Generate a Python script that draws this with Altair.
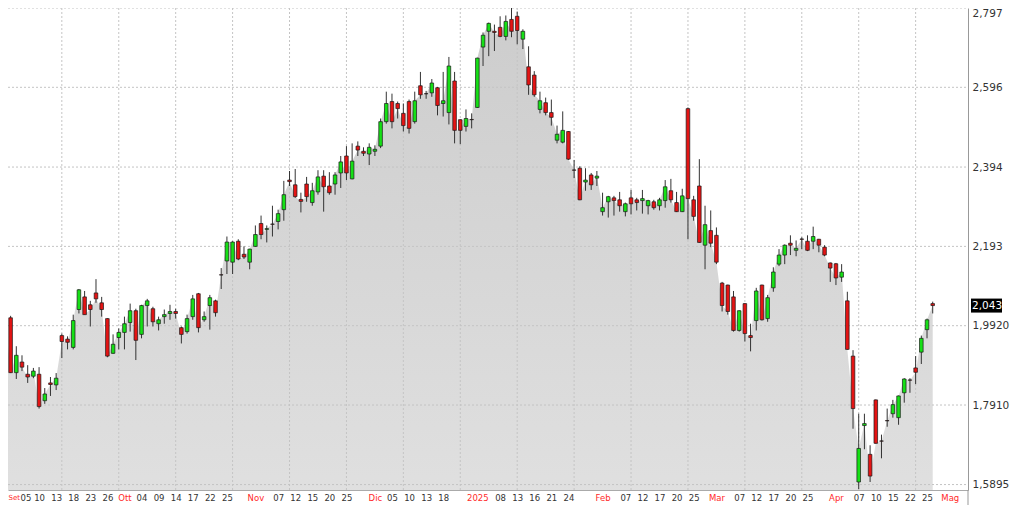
import json
import altair as alt
import pandas as pd

# ---- daily OHLC, one entry per trading session (30 Aug 2024 .. 28 Apr 2025) ----
opens = [2.045, 2.022, 2.012, 1.873, 1.900, 1.869, 1.864, 1.869, 1.802, 1.847,
         1.842, 1.967, 1.958, 1.937, 2.033, 2.065, 2.045, 2.075, 2.050, 2.010,
         1.922, 1.962, 1.975, 2.000, 2.030, 1.970, 2.043, 2.035, 1.997, 2.015,
         2.023, 2.028, 1.987, 1.977, 2.015, 2.073, 2.007, 2.043, 2.055, 2.121,
         2.156, 2.153, 2.206, 2.173, 2.153, 2.193, 2.251, 2.236, 2.2495, 2.256,
         2.286, 2.361, 2.349, 2.312, 2.351, 2.304, 2.331, 2.371, 2.346, 2.351,
         2.379, 2.422, 2.364, 2.447, 2.434, 2.427, 2.434, 2.447, 2.509, 2.560,
         2.555, 2.530, 2.560, 2.509, 2.600, 2.580, 2.582, 2.595, 2.555, 2.532,
         2.612, 2.514, 2.497, 2.5146, 2.545, 2.698, 2.738, 2.738, 2.748, 2.725,
         2.768, 2.776, 2.718, 2.648, 2.627, 2.540, 2.557, 2.532, 2.462, 2.457,
         2.484, 2.3866, 2.391, 2.356, 2.374, 2.366, 2.281, 2.306, 2.316, 2.311,
         2.281, 2.316, 2.311, 2.309, 2.296, 2.306, 2.296, 2.309, 2.334, 2.304,
         2.281, 2.542, 2.311, 2.346, 2.196, 2.233, 2.221, 2.100, 2.095, 2.065,
         1.980, 2.048, 1.967, 2.005, 2.095, 2.010, 2.088, 2.148, 2.171, 2.201,
         2.183, 2.2117, 2.206, 2.206, 2.211, 2.191, 2.151, 2.149, 2.115, 2.055,
         1.915, 1.596, 1.739, 1.666, 1.804, 1.700, 1.7516, 1.769, 1.759, 1.822,
         1.8545, 1.885, 1.925, 1.982, 2.048]
highs = [2.053, 2.028, 2.017, 1.940, 1.917, 1.892, 1.885, 1.887, 1.834, 1.862,
         1.872, 1.972, 1.965, 2.020, 2.085, 2.080, 2.055, 2.110, 2.065, 2.011,
         1.970, 1.985, 2.015, 2.048, 2.035, 2.045, 2.060, 2.040, 2.015, 2.033,
         2.045, 2.035, 1.990, 2.020, 2.070, 2.075, 2.028, 2.070, 2.058, 2.138,
         2.218, 2.206, 2.211, 2.193, 2.187, 2.246, 2.271, 2.246, 2.296, 2.286,
         2.359, 2.384, 2.389, 2.329, 2.369, 2.354, 2.386, 2.386, 2.381, 2.381,
         2.422, 2.447, 2.454, 2.459, 2.444, 2.454, 2.449, 2.517, 2.585, 2.580,
         2.560, 2.555, 2.565, 2.585, 2.635, 2.587, 2.617, 2.597, 2.635, 2.673,
         2.635, 2.515, 2.540, 2.530, 2.671, 2.735, 2.760, 2.755, 2.776, 2.778,
         2.815, 2.788, 2.743, 2.700, 2.637, 2.585, 2.570, 2.565, 2.499, 2.535,
         2.485, 2.412, 2.396, 2.391, 2.379, 2.384, 2.329, 2.321, 2.321, 2.331,
         2.304, 2.336, 2.316, 2.336, 2.311, 2.311, 2.316, 2.361, 2.364, 2.331,
         2.339, 2.545, 2.321, 2.414, 2.296, 2.284, 2.241, 2.103, 2.096, 2.080,
         2.031, 2.049, 1.997, 2.088, 2.096, 2.070, 2.140, 2.186, 2.198, 2.221,
         2.208, 2.216, 2.221, 2.243, 2.212, 2.196, 2.152, 2.151, 2.148, 2.078,
         1.930, 1.769, 1.769, 1.689, 1.805, 1.716, 1.782, 1.804, 1.815, 1.859,
         1.859, 1.915, 1.967, 2.010, 2.053]
lows = [2.017, 2.015, 1.872, 1.857, 1.877, 1.847, 1.859, 1.782, 1.794, 1.814,
        1.829, 1.910, 1.932, 1.932, 2.023, 2.020, 1.990, 2.050, 2.015, 1.912,
        1.921, 1.932, 1.932, 1.977, 1.905, 1.960, 1.990, 1.990, 1.980, 1.997,
        2.007, 2.010, 1.947, 1.972, 2.007, 1.975, 2.002, 1.982, 2.015, 2.085,
        2.123, 2.123, 2.158, 2.161, 2.135, 2.192, 2.211, 2.203, 2.218, 2.236,
        2.258, 2.346, 2.316, 2.279, 2.306, 2.296, 2.324, 2.281, 2.324, 2.324,
        2.341, 2.361, 2.363, 2.422, 2.422, 2.399, 2.422, 2.442, 2.504, 2.492,
        2.517, 2.484, 2.479, 2.504, 2.567, 2.567, 2.572, 2.525, 2.522, 2.502,
        2.454, 2.452, 2.484, 2.492, 2.544, 2.650, 2.675, 2.688, 2.723, 2.715,
        2.723, 2.705, 2.693, 2.577, 2.572, 2.530, 2.525, 2.499, 2.454, 2.454,
        2.412, 2.366, 2.310, 2.334, 2.336, 2.346, 2.271, 2.266, 2.271, 2.281,
        2.269, 2.274, 2.284, 2.276, 2.274, 2.286, 2.284, 2.291, 2.304, 2.280,
        2.280, 2.211, 2.258, 2.202, 2.135, 2.191, 2.148, 2.028, 2.020, 1.977,
        1.977, 1.952, 1.927, 1.980, 2.005, 2.002, 2.078, 2.143, 2.148, 2.171,
        2.168, 2.186, 2.181, 2.186, 2.178, 2.168, 2.103, 2.095, 2.103, 1.931,
        1.731, 1.578, 1.679, 1.596, 1.693, 1.656, 1.736, 1.759, 1.741, 1.797,
        1.822, 1.844, 1.895, 1.960, 2.023]
closes = [2.025, 2.021, 1.873, 1.917, 1.887, 1.862, 1.877, 1.787, 1.819, 1.843,
          1.859, 1.952, 1.950, 2.005, 2.083, 2.020, 2.033, 2.060, 2.033, 1.915,
          1.945, 1.975, 1.997, 2.030, 1.955, 2.043, 2.055, 2.002, 2.007, 2.020,
          2.028, 2.023, 1.970, 2.010, 2.060, 1.987, 2.015, 2.063, 2.025, 2.1205,
          2.204, 2.204, 2.161, 2.166, 2.186, 2.223, 2.223, 2.238, 2.249, 2.276,
          2.324, 2.357, 2.319, 2.307, 2.319, 2.334, 2.369, 2.344, 2.329, 2.374,
          2.407, 2.379, 2.409, 2.437, 2.429, 2.444, 2.439, 2.509, 2.555, 2.509,
          2.542, 2.499, 2.492, 2.562, 2.577, 2.5797, 2.607, 2.550, 2.562, 2.650,
          2.487, 2.487, 2.517, 2.514, 2.670, 2.728, 2.758, 2.735, 2.725, 2.763,
          2.738, 2.740, 2.738, 2.602, 2.577, 2.562, 2.532, 2.520, 2.477, 2.487,
          2.414, 2.386, 2.311, 2.361, 2.349, 2.371, 2.291, 2.319, 2.309, 2.296,
          2.301, 2.301, 2.304, 2.314, 2.309, 2.291, 2.311, 2.344, 2.311, 2.281,
          2.321, 2.314, 2.269, 2.203, 2.248, 2.201, 2.153, 2.043, 2.028, 1.980,
          2.030, 1.972, 1.962, 2.080, 2.007, 2.063, 2.128, 2.171, 2.196, 2.196,
          2.188, 2.211, 2.183, 2.218, 2.196, 2.171, 2.138, 2.113, 2.128, 1.932,
          1.782, 1.681, 1.744, 1.611, 1.694, 1.6995, 1.751, 1.792, 1.814, 1.857,
          1.854, 1.874, 1.960, 2.007, 2.043]

# ---- axis labels (session index -> label) ----
tick_idx = [1, 4, 7, 10, 13, 16, 19, 22, 25, 28, 31, 34, 37, 40, 45, 49, 52, 55, 58, 61,
            66, 69, 72, 75, 78, 84, 88, 91, 94, 97, 100, 106, 110, 113, 116, 119, 122,
            126, 130, 133, 136, 139, 142, 147, 151, 154, 157, 160, 163, 167]
tick_lab = ["Set", "05", "10", "13", "18", "23", "26", "Ott", "04", "09", "14", "17", "22",
            "25", "Nov", "07", "12", "15", "20", "25", "Dic", "05", "10", "13", "18", "2025",
            "08", "13", "16", "21", "24", "Feb", "07", "12", "17", "20", "25", "Mar", "07",
            "12", "17", "20", "25", "Apr", "07", "10", "15", "22", "25", "Mag"]
month_idx = [1, 22, 45, 66, 84, 106, 126, 147, 167]
grid_idx = [1, 11, 21, 31, 41, 51, 61, 71, 81, 91, 101, 111, 121, 131, 141, 151, 161]

y_ticks = [2.797, 2.596, 2.394, 2.193, 1.992, 1.791, 1.5895]
y_labels = ["2,797", "2,596", "2,394", "2,193", "1,9920", "1,7910", "1,5895"]
last_label = "2,043"

GREEN = "#16e016"
RED = "#e41414"
W, H = 960, 482
X_LO, X_HI = 1.5408, 170.2

df = pd.DataFrame({"i": list(range(len(closes))), "open": opens, "high": highs,
                   "low": lows, "close": closes})
df["dir"] = ["up" if c >= o else "down" for o, c in zip(opens, closes)]

xscale = alt.Scale(domain=[X_LO, X_HI], nice=False, zero=False, padding=0)
yscale = alt.Scale(domain=[1.5757, 2.797], nice=False, zero=False, padding=0)

# the first session label sits just left of the visible window: pin it to the left edge
first_pos = round(max(tick_idx[0], X_LO + 0.02), 3)
tick_pos = [first_pos] + tick_idx[1:]
month_pos = [first_pos if m == tick_idx[0] else m for m in month_idx]
second = tick_idx[1]

xaxis = alt.Axis(
    values=tick_pos, tickCount=500,
    labelExpr=f"{json.dumps(tick_lab)}[indexof({tick_pos}, datum.value)]",
    labelColor={"condition": {"test": f"indexof({month_pos}, datum.value) >= 0",
                              "value": "#ff2a2a"}, "value": "#333333"},
    labelAlign={"condition": {"test": f"datum.value == {first_pos}", "value": "left"},
                "value": "center"},
    labelOffset={"condition": {"test": f"datum.value == {second}", "value": 3.5},
                 "value": 0},
    labelFontSize={"condition": {"test": f"datum.value == {first_pos}", "value": 7},
                   "value": 8.5},
    labelFont="DejaVu Sans", labelPadding=3.5,
    ticks=False, grid=False, domainColor="#aaaaaa", labelOverlap=False, labelFlush=False,
    title="",
)
yaxis = alt.Axis(
    orient="right", values=y_ticks, tickCount=100,
    labelExpr=f"{json.dumps(y_labels)}[indexof({y_ticks}, datum.value)]",
    labelFont="DejaVu Sans", labelFontSize=10.5, labelColor="#333333", labelPadding=4,
    ticks=False, grid=False, domainColor="#999999", labelOverlap=False, labelFlush=True,
    title="",
)

base = alt.Chart(df)

area = base.mark_area(
    clip=True, interpolate="linear",
    color=alt.Gradient(gradient="linear",
                       stops=[alt.GradientStop(color="#cdcdcd", offset=0),
                              alt.GradientStop(color="#f8f8f8", offset=1)],
                       x1=0, x2=0, y1=0, y2=1),
).encode(
    x=alt.X("i:Q", scale=xscale, axis=xaxis),
    y=alt.Y("close:Q", scale=yscale, axis=yaxis),
    y2=alt.value(H),
)

hgrid = alt.Chart(pd.DataFrame({"v": y_ticks})).mark_rule(
    color="#c4c4c4", strokeDash=[2, 2], strokeWidth=1
).encode(y=alt.Y("v:Q", scale=yscale, title=""), x=alt.value(0), x2=alt.value(W))

vgrid = alt.Chart(pd.DataFrame({"g": grid_idx})).mark_rule(
    clip=True, color="#c4c4c4", strokeDash=[2, 2], strokeWidth=1
).encode(x=alt.X("g:Q", scale=xscale, title=""), y=alt.value(0), y2=alt.value(H))

wicks = base.mark_rule(clip=True, color="#333333", strokeWidth=1).encode(
    x=alt.X("i:Q", scale=xscale, title=""),
    y=alt.Y("low:Q", scale=yscale, title=""),
    y2="high:Q",
)

bodies = base.mark_bar(clip=True, size=3.6, stroke="#1a1a1a", strokeWidth=0.7).encode(
    x=alt.X("i:Q", scale=xscale, title=""),
    y=alt.Y("open:Q", scale=yscale, title=""),
    y2="close:Q",
    color=alt.Color("dir:N", scale=alt.Scale(domain=["up", "down"], range=[GREEN, RED]),
                    legend=None),
)

last_df = pd.DataFrame({"v": [closes[-1]], "t": [last_label]})
last_box = alt.Chart(last_df).mark_tick(
    color="black", orient="horizontal", size=31, thickness=14, opacity=1
).encode(y=alt.Y("v:Q", scale=yscale, title=""), x=alt.value(W + 18.5))
last_txt = alt.Chart(last_df).mark_text(
    color="white", align="left", baseline="middle", font="DejaVu Sans", fontSize=10.5
).encode(y=alt.Y("v:Q", scale=yscale, title=""), x=alt.value(W + 4), text="t:N")

band_edge = alt.Chart(pd.DataFrame({"a": [0]})).mark_rule(color="#999999").encode(
    x=alt.value(W), y=alt.value(H), y2=alt.value(H + 15)
)

chart = alt.layer(area, hgrid, vgrid, wicks, bodies, last_box, last_txt, band_edge).properties(
    width=W, height=H,
    autosize=alt.AutoSizeParams(type="none"),
    padding={"left": 0, "top": 0, "right": 48, "bottom": 15},
    background="white",
).configure_view(strokeWidth=0)

chart.save("out.html", embed_options={"renderer": "svg", "actions": False})
